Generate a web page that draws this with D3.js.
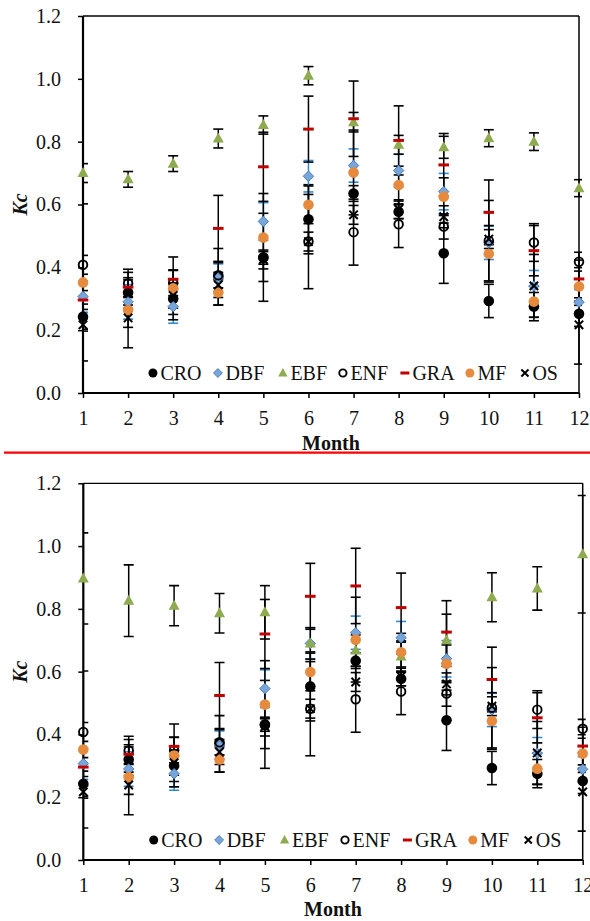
<!DOCTYPE html>
<html>
<head>
<meta charset="utf-8">
<script src="https://cdn.jsdelivr.net/npm/d3@7"></script>
<style>
  html, body { margin: 0; padding: 0; background: #fff; }
  svg { display: block; }
  svg text { font-family: "Liberation Serif", "Times New Roman", "DejaVu Serif", serif !important; fill: #111; }
</style>
</head>
<body>
<svg id="chart" width="590" height="921"></svg>
<script>
// ---------------- DATA ----------------
const months = [1, 2, 3, 4, 5, 6, 7, 8, 9, 10, 11, 12];
const seriesNames = ["CRO", "DBF", "EBF", "ENF", "GRA", "MF", "OS"];
const yTicks = [0, 0.2, 0.4, 0.6, 0.8, 1.0, 1.2];

const croKc = [0.243, 0.320, 0.300, 0.370, 0.432, 0.553, 0.635, 0.577, 0.445, 0.293, 0.275, 0.252];
const croSd = [0.040, 0.040, 0.050, 0.090, 0.140, 0.110, 0.025, 0.022, 0.096, 0.053, 0.045, 0.040];

const dbfKc = [0.307, 0.290, 0.275, 0.366, 0.546, 0.690, 0.724, 0.708, 0.641, 0.478, 0.340, 0.289];
const dbfSd = [0.050, 0.055, 0.053, 0.045, 0.060, 0.050, 0.053, 0.052, 0.058, 0.053, 0.050, 0.040];

const ebfKcTop = [0.700, 0.680, 0.730, 0.810, 0.853, 1.010, 0.862, 0.790, 0.782, 0.811, 0.800, 0.652];
const ebfSdTop = [0.030, 0.025, 0.025, 0.030, 0.029, 0.029, 0.031, 0.030, 0.035, 0.027, 0.028, 0.027];

const ebfKcBottom = [0.897, 0.826, 0.810, 0.786, 0.789, 0.690, 0.667, 0.648, 0.700, 0.837, 0.865, 0.974];
const ebfSdBottom = [0.145, 0.114, 0.064, 0.063, 0.085, 0.050, 0.050, 0.050, 0.083, 0.078, 0.069, 0.187];

const enfKc = [0.408, 0.349, 0.350, 0.375, 0.430, 0.482, 0.512, 0.537, 0.530, 0.485, 0.479, 0.418];
const enfSd = [0.030, 0.045, 0.040, 0.040, 0.020, 0.150, 0.105, 0.074, 0.040, 0.128, 0.060, 0.030];

const graKc = [0.296, 0.337, 0.362, 0.524, 0.720, 0.840, 0.873, 0.804, 0.726, 0.575, 0.453, 0.363];
const graSd = [0.030, 0.030, 0.030, 0.105, 0.110, 0.105, 0.120, 0.110, 0.100, 0.103, 0.080, 0.060];

const mfKc = [0.352, 0.264, 0.333, 0.320, 0.495, 0.599, 0.702, 0.662, 0.625, 0.443, 0.291, 0.339];
const mfSd = [0.250, 0.120, 0.100, 0.040, 0.140, 0.060, 0.135, 0.060, 0.060, 0.090, 0.050, 0.060];

const osKc = [0.217, 0.239, 0.310, 0.344, 0.425, 0.482, 0.567, 0.585, 0.561, 0.490, 0.341, 0.217];
const osSd = [0.020, 0.030, 0.040, 0.040, 0.030, 0.030, 0.030, 0.030, 0.035, 0.030, 0.100, 0.125];

// ---------------- STYLE ----------------
const FONT = '"Liberation Serif", "Times New Roman", "DejaVu Serif", serif';
const styles = {
  CRO: { type: "circle", fill: "#000", stroke: "none", err: "#000" },
  DBF: { type: "diamond", fill: "#79a6da", stroke: "#4a7dbb", err: "#2f8ad6" },
  EBF: { type: "triangle", fill: "#8eab4f", stroke: "none", err: "#000" },
  ENF: { type: "ocircle", fill: "none", stroke: "#000", err: "#000" },
  GRA: { type: "dash", fill: "#c00000", stroke: "none", err: "#000" },
  MF:  { type: "circle", fill: "#e68a3e", stroke: "none", err: "#000" },
  OS:  { type: "x", fill: "none", stroke: "#000", err: "#000" }
};
const legendFrac = [0.141, 0.272, 0.403, 0.524, 0.649, 0.780, 0.891];

const svg = d3.select("#chart");

function drawMarker(g, type, st, x, y, scale) {
  const k = scale || 1;
  if (type === "circle") {
    g.append("circle").attr("cx", x).attr("cy", y).attr("r", 5.3 * k).attr("fill", st.fill);
  } else if (type === "ocircle") {
    g.append("circle").attr("cx", x).attr("cy", y).attr("r", 4.3 * k)
      .attr("fill", "none").attr("stroke", st.stroke).attr("stroke-width", 1.9);
  } else if (type === "diamond") {
    const h = 5.2 * k;
    g.append("path").attr("d", `M${x},${y - h}L${x + h},${y}L${x},${y + h}L${x - h},${y}Z`)
      .attr("fill", st.fill).attr("stroke", st.stroke).attr("stroke-width", 1);
  } else if (type === "triangle") {
    const w = 5.5 * k, hh = 10 * k;
    g.append("path").attr("d", `M${x},${y - hh * 0.6}L${x + w},${y + hh * 0.4}L${x - w},${y + hh * 0.4}Z`)
      .attr("fill", st.fill);
  } else if (type === "dash") {
    g.append("rect").attr("x", x - 5.3 * k).attr("y", y - 1.5).attr("width", 10.6 * k).attr("height", 3)
      .attr("fill", st.fill);
  } else if (type === "x") {
    const s = 4.2 * k;
    g.append("path").attr("d", `M${x - s},${y - s}L${x + s},${y + s}M${x - s},${y + s}L${x + s},${y - s}`)
      .attr("stroke", st.stroke).attr("stroke-width", 2).attr("fill", "none");
  }
}

function panel(cfg) {
  const { x0, x1, yTop, yBot, ebfKc, ebfSd, id } = cfg;
  const x = d3.scaleLinear().domain([1, 12]).range([x0, x1]);
  const y = d3.scaleLinear().domain([0, 1.2]).range([yBot, yTop]);

  const data = {
    CRO: [croKc, croSd], DBF: [dbfKc, dbfSd], EBF: [ebfKc, ebfSd], ENF: [enfKc, enfSd],
    GRA: [graKc, graSd], MF: [mfKc, mfSd], OS: [osKc, osSd]
  };

  const g = svg.append("g");

  svg.append("clipPath").attr("id", "clip" + id)
    .append("rect").attr("x", x0).attr("y", yTop - 60).attr("width", x1 - x0 + 3).attr("height", yBot - yTop + 60);

  // axes
  const yAxis = d3.axisLeft(y).tickValues(yTicks).tickFormat(d3.format(".1f")).tickSize(5).tickPadding(17);
  const ya = g.append("g").attr("transform", `translate(${x0},0)`).call(yAxis);
  const xAxis = d3.axisBottom(x).tickValues(months).tickFormat(d3.format("d")).tickSize(5).tickPadding(12.6);
  const xa = g.append("g").attr("transform", `translate(0,${yBot})`).call(xAxis);
  [ya, xa].forEach(a => {
    a.attr("font-family", FONT).attr("font-size", 20);
    a.select(".domain").remove();
    a.selectAll(".tick line").attr("stroke", "#000").attr("stroke-width", 1.5);
    a.selectAll(".tick text").attr("font-size", 20).attr("fill", "#1a1a1a").attr("font-family", FONT);
  });

  // frame
  g.append("line").attr("x1", x0).attr("x2", x1).attr("y1", yTop).attr("y2", yTop).attr("stroke", "#000").attr("stroke-width", 1.3);
  g.append("line").attr("x1", x1).attr("x2", x1).attr("y1", yTop).attr("y2", yBot).attr("stroke", "#000").attr("stroke-width", 1.5);
  g.append("line").attr("x1", x0).attr("x2", x0).attr("y1", yTop).attr("y2", yBot + 0.8).attr("stroke", "#000").attr("stroke-width", 2.2);
  g.append("line").attr("x1", x0).attr("x2", x1).attr("y1", yBot).attr("y2", yBot).attr("stroke", "#000").attr("stroke-width", 2);

  // error bars
  const eg = g.append("g").attr("clip-path", `url(#clip${id})`);
  seriesNames.forEach(name => {
    const [vals, sds] = data[name];
    const col = styles[name].err;
    months.forEach((m, i) => {
      const cx = x(m), lo = y(vals[i] - sds[i]), hi = y(vals[i] + sds[i]);
      eg.append("line").attr("x1", cx).attr("x2", cx).attr("y1", lo).attr("y2", hi)
        .attr("stroke", col).attr("stroke-width", 1.5);
      [lo, hi].forEach(yy => {
        eg.append("line").attr("x1", cx - 5).attr("x2", cx + 5).attr("y1", yy).attr("y2", yy)
          .attr("stroke", col).attr("stroke-width", 1.6);
      });
    });
  });

  // markers
  const mg = g.append("g");
  seriesNames.forEach(name => {
    const [vals] = data[name];
    months.forEach((m, i) => drawMarker(mg, styles[name].type, styles[name], x(m), y(vals[i]), 1));
  });

  // legend
  const ly = yBot - 20;
  const lg = g.append("g");
  seriesNames.forEach((name, i) => {
    const lx = x0 + legendFrac[i] * (x1 - x0);
    drawMarker(lg, styles[name].type, styles[name], lx, ly, 0.85);
    lg.append("text").attr("x", lx + 7.5).attr("y", ly + 6.8).attr("font-size", 20)
      .attr("font-family", FONT).text(name);
  });

  // axis titles
  g.append("text").attr("x", (x0 + x1) / 2).attr("y", cfg.monthY).attr("text-anchor", "middle")
    .attr("font-size", 20).attr("font-weight", "bold").attr("font-family", FONT).text("Month");
  g.append("text").attr("transform", `translate(26.5,${(yTop + yBot) / 2}) rotate(-90)`)
    .attr("text-anchor", "middle").attr("font-size", 20).attr("font-weight", "bold")
    .attr("font-style", "italic").attr("font-family", FONT).text("Kc");
}

panel({ id: "a", x0: 83, x1: 579, yTop: 16, yBot: 393, ebfKc: ebfKcTop, ebfSd: ebfSdTop, monthY: 450 });
panel({ id: "b", x0: 83.3, x1: 582.7, yTop: 483.3, yBot: 860, ebfKc: ebfKcBottom, ebfSd: ebfSdBottom, monthY: 915.5 });

// red separator
svg.append("line").attr("x1", 4).attr("x2", 590).attr("y1", 452.7).attr("y2", 452.7)
  .attr("stroke", "#ff0000").attr("stroke-width", 2.2);
</script>
</body>
</html>
